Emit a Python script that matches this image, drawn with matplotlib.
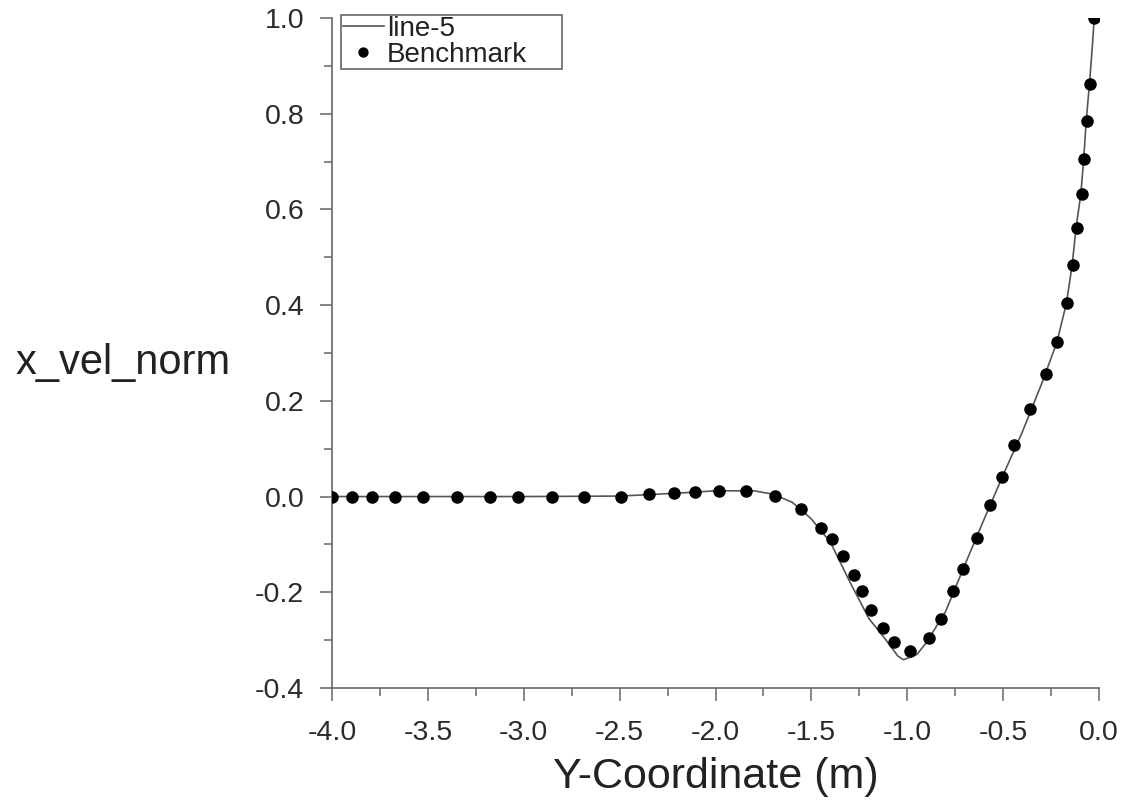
import matplotlib
matplotlib.use("Agg")
import matplotlib.pyplot as plt
from matplotlib.ticker import MultipleLocator, FormatStrFormatter

plt.rcParams['font.family'] = ['Liberation Sans', 'DejaVu Sans']

# Simulation line ("line-5")
line_x = [-4.0, -3.0, -2.5, -2.2, -2.0, -1.8, -1.7, -1.6, -1.55, -1.5, -1.4, -1.3, -1.2,
          -1.12, -1.05, -1.02, -0.95, -0.9, -0.8, -0.7, -0.6, -0.5, -0.4, -0.3, -0.22,
          -0.17, -0.14, -0.12, -0.095, -0.08, -0.067, -0.05, -0.035, -0.025]
line_y = [0.0, 0.0, 0.001, 0.007, 0.012, 0.012, 0.005, -0.012, -0.029, -0.047, -0.096,
          -0.178, -0.255, -0.295, -0.333, -0.341, -0.330, -0.305, -0.240, -0.143, -0.048,
          0.045, 0.135, 0.235, 0.322, 0.404, 0.484, 0.561, 0.632, 0.705, 0.784, 0.862,
          0.94, 1.0]

# Benchmark points
bench_x = [-4.00, -3.896, -3.793, -3.671, -3.526, -3.346, -3.175, -3.032, -2.853, -2.688,
           -2.491, -2.348, -2.218, -2.108, -1.983, -1.843, -1.690, -1.552, -1.448, -1.391,
           -1.333, -1.278, -1.238, -1.191, -1.125, -1.070, -0.985, -0.886, -0.822, -0.761,
           -0.709, -0.639, -0.568, -0.506, -0.446, -0.360, -0.277, -0.221, -0.167, -0.136,
           -0.117, -0.089, -0.076, -0.064, -0.045, -0.025]
bench_y = [0.0, 0.0, 0.0, 0.0, 0.0, 0.0, 0.0, 0.0, 0.0, 0.0,
           0.0, 0.005, 0.007, 0.009, 0.012, 0.011, 0.001, -0.026, -0.066, -0.089,
           -0.125, -0.164, -0.197, -0.237, -0.275, -0.304, -0.322, -0.295, -0.256, -0.197,
           -0.151, -0.087, -0.017, 0.041, 0.108, 0.183, 0.256, 0.322, 0.404, 0.484,
           0.561, 0.632, 0.705, 0.784, 0.862, 1.0]

fig = plt.figure(figsize=(11.21, 8.11), dpi=100)
ax = fig.add_axes([0.2962, 0.1517, 0.6842, 0.8261])

ax.plot(line_x, line_y, color='#555555', lw=1.2, label='line-5', zorder=2)
ax.plot(bench_x, bench_y, linestyle='none', marker='o', ms=8, color='black',
        label='Benchmark', zorder=3)

ax.set_xlim(-4.0, 0.0)
ax.set_ylim(-0.4, 1.0)
ax.xaxis.set_major_locator(MultipleLocator(0.5))
ax.xaxis.set_minor_locator(MultipleLocator(0.25))
ax.yaxis.set_major_locator(MultipleLocator(0.2))
ax.yaxis.set_minor_locator(MultipleLocator(0.1))
ax.xaxis.set_major_formatter(FormatStrFormatter('%.1f'))
ax.yaxis.set_major_formatter(FormatStrFormatter('%.1f'))

for s in ['top', 'right']:
    ax.spines[s].set_visible(False)
for s in ['left', 'bottom']:
    ax.spines[s].set_color('#666666')
    ax.spines[s].set_linewidth(1.2)

ax.tick_params(which='major', direction='out', length=9, width=1.1, color='#666666',
               labelsize=20.5, labelcolor='#2a2a2a')
ax.tick_params(which='minor', direction='out', length=6, width=1.1, color='#666666')
ax.tick_params(axis='y', which='major', pad=11)
ax.tick_params(axis='x', which='major', pad=14)

ax.set_xlabel('Y-Coordinate (m)', fontsize=31, color='#222222', labelpad=8)
ax.set_ylabel('x_vel_norm', fontsize=30, color='#222222', rotation=0,
              ha='center', va='center')
ax.yaxis.set_label_coords(-0.2725, 0.4845)

leg = ax.legend(loc='upper left', bbox_to_anchor=(0.012, 1.005, 0.288, 0.0),
                mode='expand', fontsize=20,
                frameon=True, fancybox=False, framealpha=1, edgecolor='#666666',
                borderpad=0.05, labelspacing=0.0, handlelength=1.5, handletextpad=0.1,
                borderaxespad=0, markerscale=0.8)
leg.get_frame().set_linewidth(1.2)
for t in leg.get_texts():
    t.set_color('#222222')

fig.savefig('out.png', dpi=100)
